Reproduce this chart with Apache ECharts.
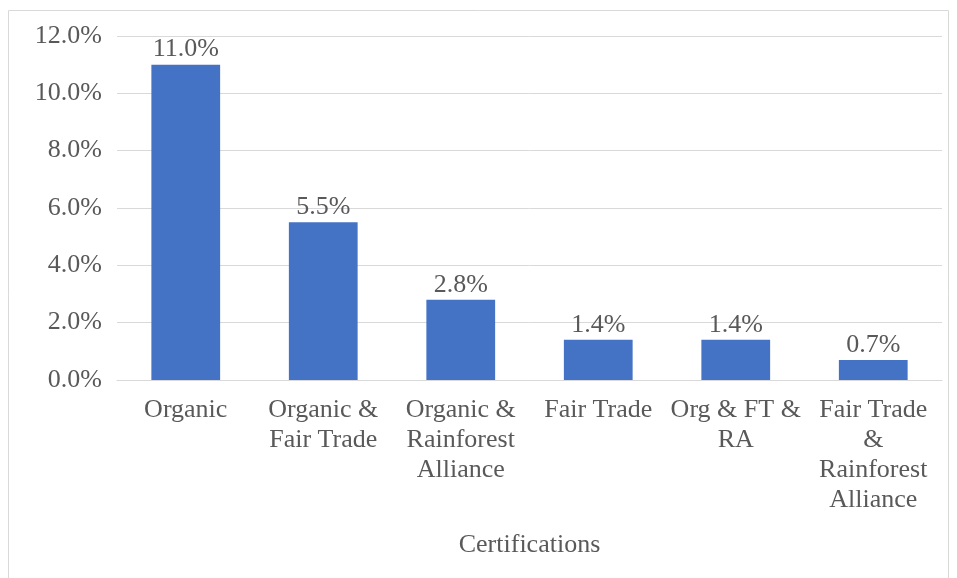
<!DOCTYPE html>
<html><head><meta charset="utf-8">
<script src="https://cdn.jsdelivr.net/npm/echarts@6/dist/echarts.min.js"></script>
<style>html,body{margin:0;padding:0;background:#fff}#c{width:957px;height:578px}</style>
</head><body><div id="c"></div>
<script>
const categories = ["Organic", "Organic &\nFair Trade", "Organic &\nRainforest\nAlliance", "Fair Trade", "Org & FT &\nRA", "Fair Trade\n&\nRainforest\nAlliance"];
const values = [11.0, 5.5, 2.8, 1.4, 1.4, 0.7];
const axisTitle = "Certifications";
const F = "'Liberation Serif', 'Times New Roman', serif";
const chart = echarts.init(document.getElementById('c'));
chart.setOption({
  animation: false,
  graphic: [{type:'rect', shape:{x:8.5,y:10.5,width:940,height:580}, style:{fill:'none', stroke:'#d9d9d9', lineWidth:1}, silent:true}],
  grid: {left:117, right:15, top:36, bottom:198, containLabel:false},
  xAxis: {
    type:'category', data:categories,
    name: axisTitle, nameLocation:'middle', nameGap:152,
    nameTextStyle:{fontFamily:F, fontSize:26, color:'#595959'},
    axisTick:{show:false},
    axisLine:{lineStyle:{color:'#d9d9d9', width:1}},
    axisLabel:{interval:0, fontFamily:F, fontSize:26, color:'#595959', lineHeight:30, margin:15}
  },
  yAxis: {
    type:'value', min:0, max:12, interval:2,
    axisLabel:{formatter:v=>v.toFixed(1)+'%', fontFamily:F, fontSize:26, color:'#595959', margin:15},
    splitLine:{lineStyle:{color:'#d9d9d9', width:1}},
    axisLine:{show:false}, axisTick:{show:false}
  },
  series: [{
    type:'bar', data:values, barWidth:'50%',
    itemStyle:{color:'#4472C4'},
    label:{show:true, position:'top', distance:2, formatter:p=>p.value.toFixed(1)+'%', fontFamily:F, fontSize:26, color:'#595959'}
  }]
});
</script></body></html>
